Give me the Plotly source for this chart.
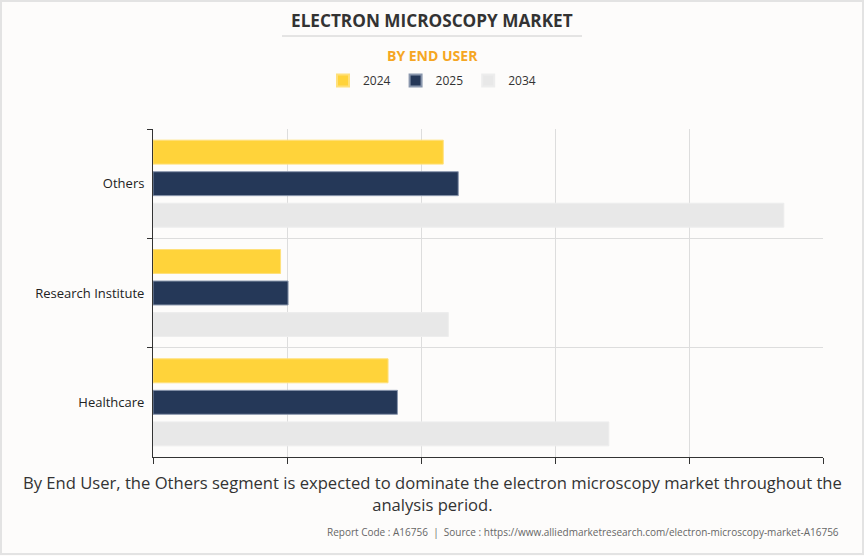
import plotly.graph_objects as go

categories = ["Others", "Research Institute", "Healthcare"]
years = ["2024", "2025", "2034"]
values_2024 = [1083, 476, 877]
values_2025 = [1139, 504, 912]
values_2034 = [2354, 1102, 1701]
series = [values_2024, values_2025, values_2034]
colors = ["#FFD33A", "#253858", "#E8E8E8"]
line_colors = ["#FFE07A", "#8A97AD", "#EDEDED"]

W, H = 864, 556
L, R, T, B = 153, 41, 129, 99
pw, ph = W - L - R, H - T - B
CX = (432 - L) / pw

fig = go.Figure()
for name, vals, c, lc in zip(years, series, colors, line_colors):
    fig.add_trace(go.Bar(
        y=categories, x=vals, name=name, orientation="h",
        marker=dict(color=c, line=dict(color=lc, width=1)),
        hoverinfo="x+name",
    ))

font = "Open Sans, Noto Sans, sans-serif"
fig.update_layout(
    width=W, height=H,
    margin=dict(l=L, r=R, t=T, b=B),
    paper_bgcolor="#FDFCFB", plot_bgcolor="#FDFCFB",
    barmode="group", bargap=0.135, bargroupgap=0.24,
    font=dict(family=font, color="#333333"),
    showlegend=True,
    legend=dict(orientation="h", x=CX, xanchor="center", y=1 + (T - 66) / ph,
                yanchor="top", font=dict(size=12, color="#333333"),
                itemsizing="constant", bgcolor="rgba(0,0,0,0)"),
    xaxis=dict(range=[0, 2500], dtick=500, showticklabels=False,
               ticks="outside", ticklen=6, tickcolor="#333333",
               showgrid=True, gridcolor="#DDDDDD", gridwidth=1,
               showline=True, linecolor="#333333", linewidth=1,
               zeroline=False, mirror=False, fixedrange=True),
    yaxis=dict(autorange="reversed", tickson="boundaries",
               ticks="outside", ticklen=5, tickcolor="#333333",
               ticklabelstandoff=5,
               showgrid=True, gridcolor="#DDDDDD", gridwidth=1,
               showline=True, linecolor="#333333", linewidth=1,
               tickfont=dict(size=13, color="#222222", family=font)),
    annotations=[
        dict(text="<b>ELECTRON MICROSCOPY MARKET</b>", x=CX, xref="paper",
             xanchor="center", y=1 + (T - 21) / ph, yref="paper", yanchor="middle",
             showarrow=False, font=dict(size=17.2, color="#333333", family=font)),
        dict(text="<b>BY END USER</b>", x=CX, xref="paper", xanchor="center",
             y=1 + (T - 55) / ph, yref="paper", yanchor="middle", showarrow=False,
             font=dict(size=14, color="#F5A623", family=font)),
        dict(text="By End User, the Others segment is expected to dominate the electron microscopy market throughout the<br>analysis period.",
             x=CX, xref="paper", xanchor="center",
             y=-(493 - (T + ph)) / ph, yref="paper", yanchor="middle",
             showarrow=False, align="center",
             font=dict(size=16.6, color="#333333", family=font)),
        dict(text="Report Code : A16756  |  Source : https://www.alliedmarketresearch.com/electron-microscopy-market-A16756",
             x=(841 - L) / pw, xref="paper", xanchor="right",
             y=-(532 - (T + ph)) / ph, yref="paper", yanchor="middle",
             showarrow=False, font=dict(size=10, color="#666666", family=font)),
    ],
    shapes=[
        dict(type="line", xref="paper", yref="paper",
             x0=(282 - L) / pw, x1=(582 - L) / pw,
             y0=1 + (T - 36) / ph, y1=1 + (T - 36) / ph,
             line=dict(color="#CCCCCC", width=1)),
        dict(type="rect", xref="paper", yref="paper",
             x0=(1 - L) / pw, x1=(W - 1 - L) / pw,
             y0=-(H - 2 - T - ph) / ph, y1=1 + (T - 1) / ph,
             line=dict(color="#E3E3E3", width=2), layer="below"),
    ],
)

fig.write_html("out.html", config={"displayModeBar": False},
               post_script="document.body.style.margin='0';")
